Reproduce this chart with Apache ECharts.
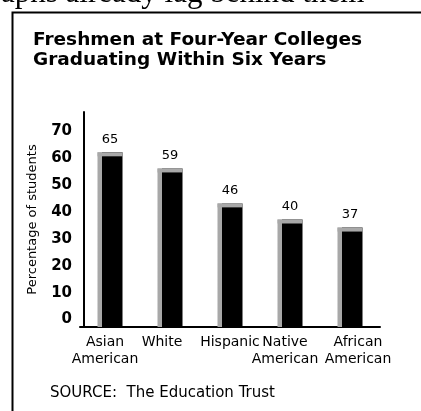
<!DOCTYPE html>
<html>
<head>
<meta charset="utf-8">
<script src="https://cdn.jsdelivr.net/npm/echarts@6/dist/echarts.min.js"></script>
<style>html,body{margin:0;padding:0;background:#fff}#c{width:421px;height:411px}</style>
</head>
<body>
<div id="c"></div>
<script>
var categories = ['Asian\nAmerican', 'White', 'Hispanic', 'Native\nAmerican', 'African\nAmerican'];
var gradRates = [65, 59, 46, 40, 37];
var yTickLabels = [0, 10, 20, 30, 40, 50, 60, 70];
var titleLines = ['Freshmen at Four-Year Colleges', 'Graduating Within Six Years'];
var yAxisTitle = 'Percentage of students';
var sourceNote = 'SOURCE:  The Education Trust';
var pageText = 'aphs already lag behind them';

var FONT = 'DejaVu Sans';
// small label nudges (styling only) to mimic the hand-set label placement
var nudges = [[0, 10, 0, 0], [0, 16, 0, 0], [0, 0, 0, 0], [0, 10, 0, 0], [0, 0, 0, 16]];
var xData = categories.map(function (c, i) {
  return {value: c, textStyle: {padding: nudges[i]}};
});

var chart = echarts.init(document.getElementById('c'), null, {renderer: 'canvas'});
chart.setOption({
  animation: false,
  backgroundColor: '#fff',
  title: {
    text: titleLines.join('\n'),
    left: 33, top: 30, padding: 0,
    textStyle: {fontFamily: FONT, fontWeight: 'bold', fontSize: 18.5, lineHeight: 20, color: '#000'}
  },
  grid: {left: 80, right: 41, top: 112, bottom: 84},
  xAxis: {
    type: 'category',
    data: xData,
    axisLine: {lineStyle: {color: '#000', width: 2}},
    axisTick: {show: false},
    axisLabel: {fontFamily: FONT, fontSize: 14, lineHeight: 17, color: '#000', margin: 7, interval: 0}
  },
  yAxis: {
    type: 'value',
    min: 0, max: 80, interval: 10,
    offset: -4,
    name: yAxisTitle,
    nameLocation: 'middle',
    nameRotate: 90,
    nameGap: 45,
    nameTextStyle: {fontFamily: FONT, fontSize: 13, color: '#000'},
    axisLine: {show: true, lineStyle: {color: '#000', width: 2}},
    axisTick: {show: false},
    splitLine: {show: false},
    axisLabel: {
      fontFamily: FONT, fontSize: 15, fontWeight: 'bold', color: '#000', margin: 12,
      verticalAlign: 'bottom',
      formatter: function (v) { return yTickLabels.indexOf(v) >= 0 ? String(v) : ''; }
    }
  },
  series: [
    {
      type: 'bar',
      data: gradRates,
      barWidth: 25,
      itemStyle: {
        color: new echarts.graphic.LinearGradient(0, 0, 1, 0, [
          {offset: 0, color: '#a8a8a8'},
          {offset: 0.19, color: '#a8a8a8'},
          {offset: 0.19, color: '#000'},
          {offset: 1, color: '#000'}
        ])
      },
      label: {show: true, position: 'top', distance: 6, fontFamily: FONT, fontSize: 13, color: '#000'}
    },
    {
      type: 'pictorialBar',
      data: gradRates,
      symbol: 'rect',
      symbolSize: [25, 4],
      symbolPosition: 'end',
      barWidth: 25,
      z: 3,
      itemStyle: {color: '#a8a8a8'}
    }
  ],
  graphic: [
    {type: 'polyline', shape: {points: [[12.5, 411], [12.5, 12.5], [421, 12.5]]}, style: {stroke: '#000', lineWidth: 2, fill: null}},
    {type: 'text', x: 1, y: -6.5, style: {text: pageText, font: '31px "Liberation Serif"', fill: '#000', verticalAlign: 'middle'}},
    {type: 'text', x: 50, y: 393, style: {text: sourceNote, font: '15px "DejaVu Sans"', fill: '#000', verticalAlign: 'middle'}}
  ]
});
</script>
</body>
</html>
